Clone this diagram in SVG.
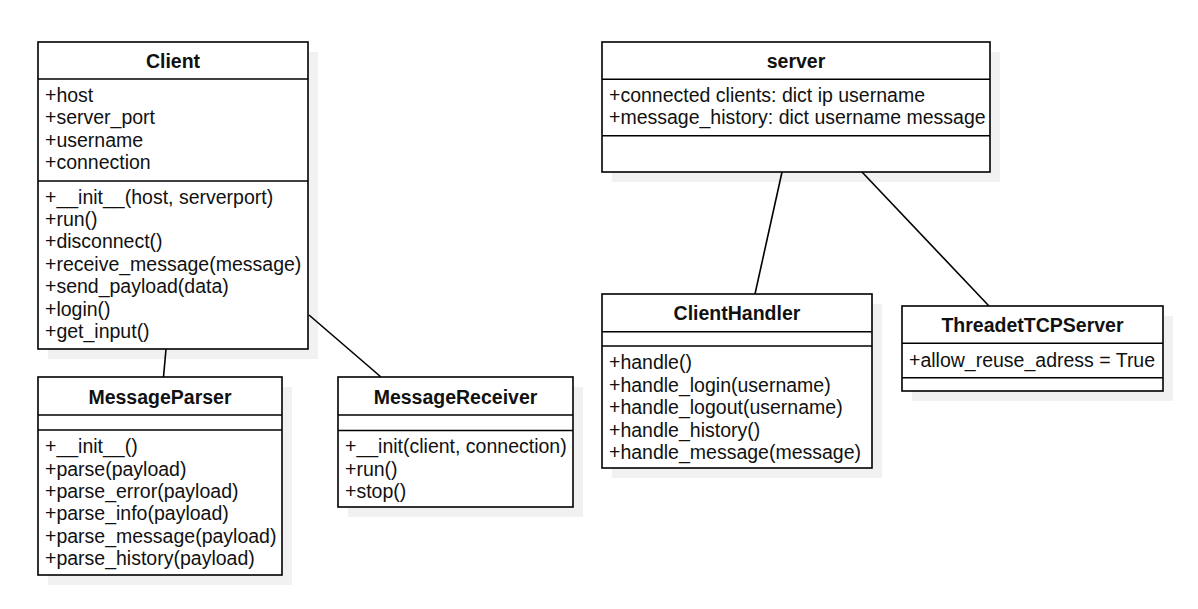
<svg xmlns="http://www.w3.org/2000/svg" width="1198" height="609" viewBox="0 0 1198 609">
<style>
.shadow{fill:#f1f1f1;stroke:none}
.box{fill:#fff;stroke:#000;stroke-width:1.6}
.sep{stroke:#000;stroke-width:1.6}
text{font-family:"Liberation Sans",Arial,sans-serif;font-size:19.5px;fill:#111}
.title{font-weight:bold;text-anchor:middle}
.conn line{stroke:#000;stroke-width:1.6}
</style>
<rect width="1198" height="609" fill="#fff"/>
<g id="shadows">
<rect class="shadow" x="48" y="52" width="270" height="307"/>
<rect class="shadow" x="48" y="387" width="244" height="198"/>
<rect class="shadow" x="348" y="387" width="235" height="130"/>
<rect class="shadow" x="612" y="52" width="388" height="130"/>
<rect class="shadow" x="612" y="304" width="270" height="174"/>
<rect class="shadow" x="912" y="316" width="261" height="85"/>
</g>
<g id="connectors" class="conn">
<line x1="166" y1="349" x2="163.5" y2="377"/>
<line x1="309" y1="315" x2="381" y2="377"/>
<line x1="782" y1="172" x2="755" y2="294"/>
<line x1="862" y1="172" x2="989" y2="306"/>
</g>
<g id="Client">
<rect class="box" x="38" y="42" width="270" height="307"/>
<line class="sep" x1="38" y1="79" x2="308" y2="79"/>
<line class="sep" x1="38" y1="181" x2="308" y2="181"/>
<text class="title" x="173" y="68">Client</text>
<text x="45" y="102">+host</text>
<text x="45" y="124.4">+server_port</text>
<text x="45" y="146.8">+username</text>
<text x="45" y="169.2">+connection</text>
<text x="45" y="203.5">+__init__(host, serverport)</text>
<text x="45" y="225.9">+run()</text>
<text x="45" y="248.3">+disconnect()</text>
<text x="45" y="270.7">+receive_message(message)</text>
<text x="45" y="293.1">+send_payload(data)</text>
<text x="45" y="315.5">+login()</text>
<text x="45" y="337.9">+get_input()</text>
</g>
<g id="MessageParser">
<rect class="box" x="38" y="377" width="244" height="198"/>
<line class="sep" x1="38" y1="415" x2="282" y2="415"/>
<line class="sep" x1="38" y1="430" x2="282" y2="430"/>
<text class="title" x="160" y="404">MessageParser</text>
<text x="45" y="453.3">+__init__()</text>
<text x="45" y="475.6">+parse(payload)</text>
<text x="45" y="497.9">+parse_error(payload)</text>
<text x="45" y="520.2">+parse_info(payload)</text>
<text x="45" y="542.5">+parse_message(payload)</text>
<text x="45" y="564.8">+parse_history(payload)</text>
</g>
<g id="MessageReceiver">
<rect class="box" x="338" y="377" width="235" height="130"/>
<line class="sep" x1="338" y1="415" x2="573" y2="415"/>
<line class="sep" x1="338" y1="430.5" x2="573" y2="430.5"/>
<text class="title" x="455.5" y="404">MessageReceiver</text>
<text x="345" y="453.3">+__init(client, connection)</text>
<text x="345" y="475.6">+run()</text>
<text x="345" y="497.9">+stop()</text>
</g>
<g id="server">
<rect class="box" x="602" y="42" width="388" height="130"/>
<line class="sep" x1="602" y1="79.3" x2="990" y2="79.3"/>
<line class="sep" x1="602" y1="135.7" x2="990" y2="135.7"/>
<text class="title" x="796" y="68.3">server</text>
<text x="609" y="101.7">+connected clients: dict ip username</text>
<text x="609" y="124.2">+message_history: dict username message</text>
</g>
<g id="ClientHandler">
<rect class="box" x="602" y="294" width="270" height="174"/>
<line class="sep" x1="602" y1="331.7" x2="872" y2="331.7"/>
<line class="sep" x1="602" y1="346" x2="872" y2="346"/>
<text class="title" x="737" y="320">ClientHandler</text>
<text x="609" y="369">+handle()</text>
<text x="609" y="391.5">+handle_login(username)</text>
<text x="609" y="414">+handle_logout(username)</text>
<text x="609" y="436.5">+handle_history()</text>
<text x="609" y="459">+handle_message(message)</text>
</g>
<g id="ThreadetTCPServer">
<rect class="box" x="902" y="306" width="261" height="85"/>
<line class="sep" x1="902" y1="343.3" x2="1163" y2="343.3"/>
<line class="sep" x1="902" y1="377.7" x2="1163" y2="377.7"/>
<text class="title" x="1032.5" y="331.7">ThreadetTCPServer</text>
<text x="909" y="366.7">+allow_reuse_adress = True</text>
</g>
</svg>
